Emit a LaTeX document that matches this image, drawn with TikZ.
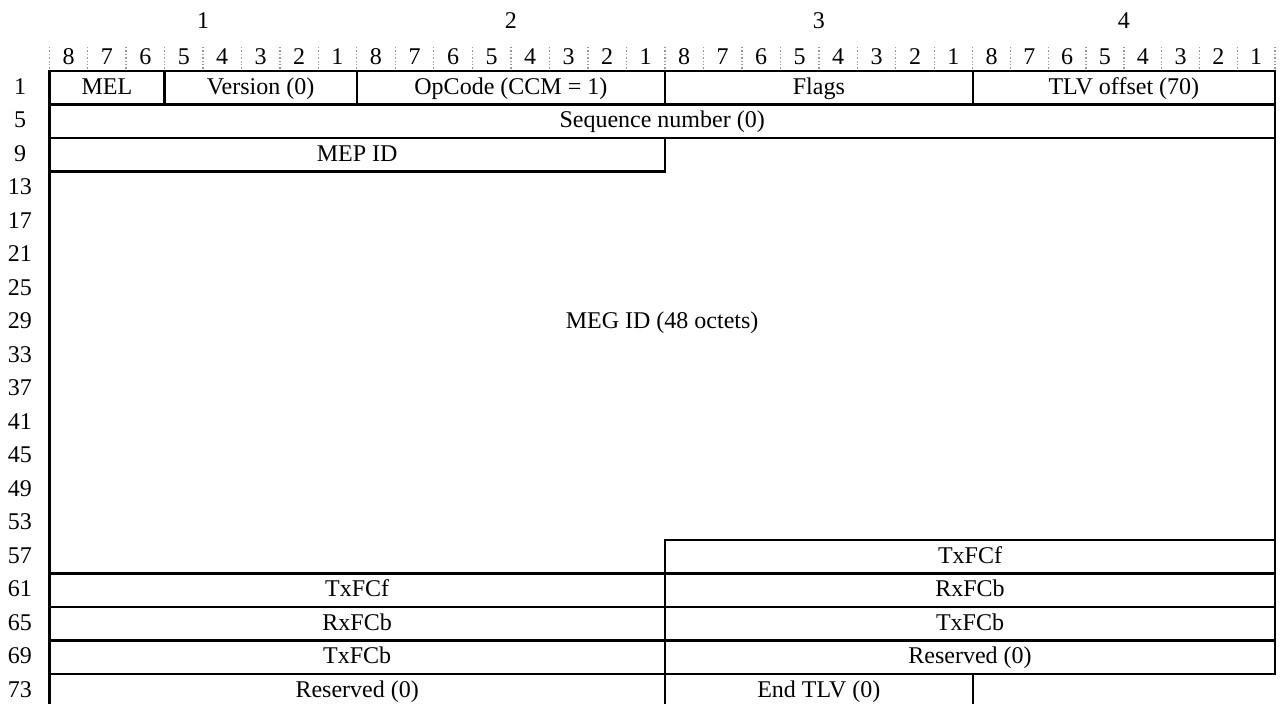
\documentclass[tikz,border=0pt]{standalone}
\usepackage{fontspec}
\setmainfont{Liberation Serif}

\begin{document}
\begin{tikzpicture}[x=0.5pt,y=-0.5pt]
	\tikzstyle{every node} = [font=\fontsize{12}{14}\selectfont, inner sep=0pt, text height=8pt, text depth=1.5pt];
	\tikzstyle{field} = [draw=black, line width=1.2pt, rectangle, outer sep=0pt, minimum height=16.75pt];
	\tikzstyle{bittick} = [gray!80, densely dotted, line width=0.7pt];
	\useasboundingbox (0,0) rectangle (1281,704);
	% octet and bit numbers
	\foreach \o/\xl/\xr in {1/49.3/356.7, 2/356.7/665, 3/665/972.7, 4/972.7/1275} {
		\node (oct\o) at ({(\xl+\xr)/2}, 22) {\o};
		\foreach \b in {0,...,7} {
			\pgfmathtruncatemacro\n{8-\b}
			\node (bit\o-\n) at ({\xl+(\xr-\xl)*(\b+0.5)/8}, 58) {\n};
			\draw[bittick] ({\xl+(\xr-\xl)*\b/8}, 47) -- ++(0,24);
		}
	}
	\draw[bittick] (1275, 47) -- ++(0,24);
	% row numbers
	\foreach \r [count=\i from 0] in {1,5,...,73}
		\node (row\r) at (20, {87.75+33.5*\i}) {\r};
	% fields
	\node[field, minimum width=57.65pt] (mel) at (106.95, 87.75) {MEL};
	\node[field, minimum width=96.05pt] (version) at (260.65, 87.75) {Version (0)};
	\node[field, minimum width=154.15pt] (opcode) at (510.85, 87.75) {OpCode (CCM = 1)};
	\node[field, minimum width=153.85pt] (flags) at (818.85, 87.75) {Flags};
	\node[field, minimum width=151.15pt] (tlvoff) at (1123.85, 87.75) {TLV offset (70)};
	\node[field, minimum width=612.85pt] (seqnum) at (662.15, 121.25) {Sequence number (0)};
	\node[field, minimum width=307.85pt] (mepid) at (357.15, 154.75) {MEP ID};
	\node[field, minimum width=305pt] (txfcf57) at (970, 556.75) {TxFCf};
	\node[field, minimum width=307.85pt] (txfcf61) at (357.15, 590.25) {TxFCf};
	\node[field, minimum width=305pt] (rxfcb61) at (970, 590.25) {RxFCb};
	\node[field, minimum width=307.85pt] (rxfcb65) at (357.15, 623.75) {RxFCb};
	\node[field, minimum width=305pt] (txfcb65) at (970, 623.75) {TxFCb};
	\node[field, minimum width=307.85pt] (txfcb69) at (357.15, 657.25) {TxFCb};
	\node[field, minimum width=305pt] (resv69) at (970, 657.25) {Reserved (0)};
	\node[field, minimum width=307.85pt] (resv73) at (357.15, 690.75) {Reserved (0)};
	\node[field, minimum width=153.85pt] (endtlv) at (818.85, 690.75) {End TLV (0)};
	% MEG ID area
	\node (megid) at (662.15, 322.25) {MEG ID (48 octets)};
	\draw[line width=1.2pt] (mepid.south west) -- (txfcf61.north west);
	\draw[line width=1.2pt] (seqnum.south east) -- (txfcf57.north east);
\end{tikzpicture}
\end{document}
